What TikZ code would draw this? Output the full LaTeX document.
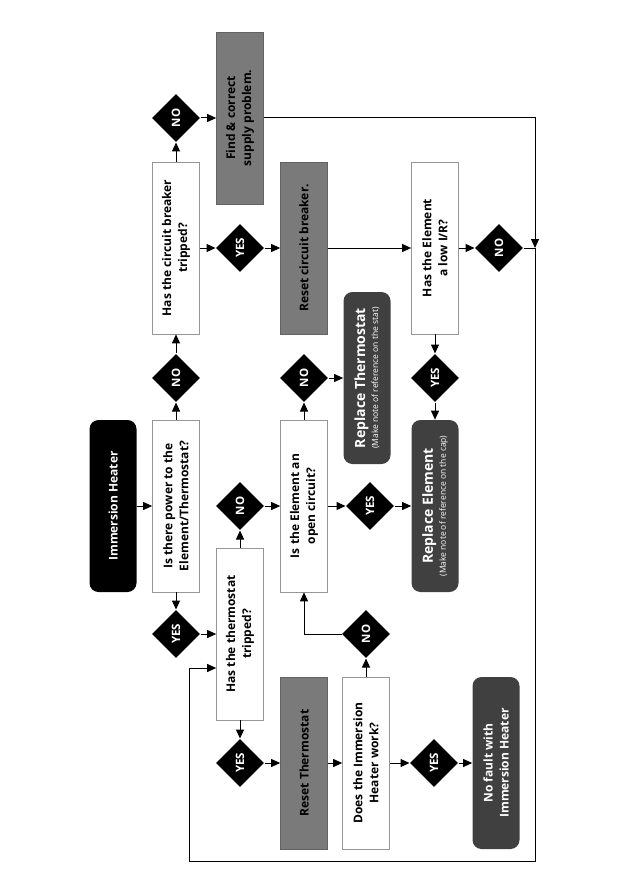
\documentclass[tikz,border=0pt]{standalone}
\usepackage{fontspec}
\setmainfont{Open Sans}
\usetikzlibrary{calc, positioning, arrows.meta, shapes.geometric}
\definecolor{boxGray}{RGB}{122,122,122}
\definecolor{boxDark}{RGB}{64,64,64}
\definecolor{edgeGray}{RGB}{150,150,150}
\newcommand{\notefont}{\mdseries\fontsize{8.5}{10}\selectfont}

\begin{document}
\begin{tikzpicture}[x=1pt, y=-1pt, >={Triangle[length=9pt, width=8pt]},
  line width=1pt,
  font=\bfseries\fontsize{12}{16}\selectfont,
  qbox/.style={rectangle, draw=edgeGray, fill=white, line width=0.7pt, rotate=90,
    minimum width=172pt, minimum height=47pt, inner sep=2pt, align=center},
  actbox/.style={qbox, draw=boxGray!80!black, fill=boxGray},
  endbox/.style={qbox, draw=none, fill=boxDark, rounded corners=9pt, text=white},
  startnode/.style={endbox, fill=black},
  dnode/.style={diamond, fill=black, rotate=90, minimum width=48pt, minimum height=48pt,
    inner sep=0pt, text=white, font=\bfseries\fontsize{11.5}{12}\selectfont}]
  \useasboundingbox (0,0) rectangle (630,893);

  % Start and power check
  \node[startnode] (start) at (113,506) {Immersion Heater};
  \node[qbox] (power) at (176,506) {Is there power to the\\Element/Thermostat?};
  \node[dnode] (noPower) at (176,378) {NO};
  \node[dnode] (yesPower) at (176,634) {YES};

  % Circuit breaker branch
  \node[qbox] (breaker) at (176,248) {Has the circuit breaker\\tripped?};
  \node[dnode] (noBreaker) at (176,118) {NO};
  \node[actbox] (supply) at (240,118) {Find \& correct\\supply problem.};
  \node[dnode] (yesBreaker) at (240,248) {YES};
  \node[actbox] (resetCB) at (304,248) {Reset circuit breaker.};
  \node[qbox] (lowIR) at (435,248) {Has the Element\\a low I/R?};
  \node[dnode] (noIR) at (499,248) {NO};
  \node[dnode] (yesIR) at (435,378) {YES};

  % Thermostat branch
  \node[qbox] (stat) at (240,634) {Has the thermostat\\tripped?};
  \node[dnode] (noStat) at (240,506) {NO};
  \node[dnode] (yesStat) at (240,763) {YES};
  \node[actbox] (resetStat) at (304,763) {Reset Thermostat};
  \node[qbox] (works) at (366,763) {Does the Immersion\\Heater work?};
  \node[dnode] (noWorks) at (366,634) {NO};
  \node[dnode] (yesWorks) at (434,763) {YES};
  \node[endbox] (noFault) at (496,763) {No fault with\\Immersion Heater};

  % Element branch
  \node[qbox] (openCct) at (304,506) {Is the Element an\\open circuit?};
  \node[dnode] (noOpen) at (304,378) {NO};
  \node[dnode] (yesOpen) at (370,506) {YES};
  \node[endbox] (newStat) at (367,378)
    {\fontsize{14}{15}\selectfont Replace Thermostat\\[-3pt]{\notefont (Make note of reference on the stat)}};
  \node[endbox] (newElem) at (435,506)
    {\fontsize{14}{15}\selectfont Replace Element\\[-3pt]{\notefont (Make note of reference on the cap)}};

  \coordinate (join) at (535,248);
  \coordinate (loopBR) at (535,861);
  \coordinate (loopBL) at (189,861);

  % Connectors
  \draw[->] (start) -- (power);
  \draw[->] (power) -- (noPower);
  \draw[->] (noPower) -- (breaker);
  \draw[->] (breaker) -- (noBreaker);
  \draw[->] (noBreaker) -- (supply);
  \draw[->] (breaker) -- (yesBreaker);
  \draw[->] (yesBreaker) -- (resetCB);
  \draw[->] (resetCB) -- (lowIR);
  \draw[->] (lowIR) -- (noIR);
  \draw[->] (lowIR) -- (yesIR);
  \draw[->] (yesIR) -- (newElem);
  \draw[->] (power) -- (yesPower);
  \draw[->] (yesPower) -- (stat);
  \draw[->] (stat) -- (noStat);
  \draw[->] (noStat) -- (openCct);
  \draw[->] (stat) -- (yesStat);
  \draw[->] (yesStat) -- (resetStat);
  \draw[->] (resetStat) -- (works);
  \draw[->] (works) -- (yesWorks);
  \draw[->] (yesWorks) -- (noFault);
  \draw[->] (works) -- (noWorks);
  \draw[->] (noWorks) -| (openCct);
  \draw[->] (openCct) -- (noOpen);
  \draw[->] (noOpen) -- (newStat);
  \draw[->] (openCct) -- (yesOpen);
  \draw[->] (yesOpen) -- (newElem);

  % Return loop
  \draw[->] (supply) -| (join);
  \draw (noIR) -- (join);
  \draw[->] (join) -- (loopBR) -- (loopBL) |- ($(stat.north)+(0,34)$);
\end{tikzpicture}
\end{document}
